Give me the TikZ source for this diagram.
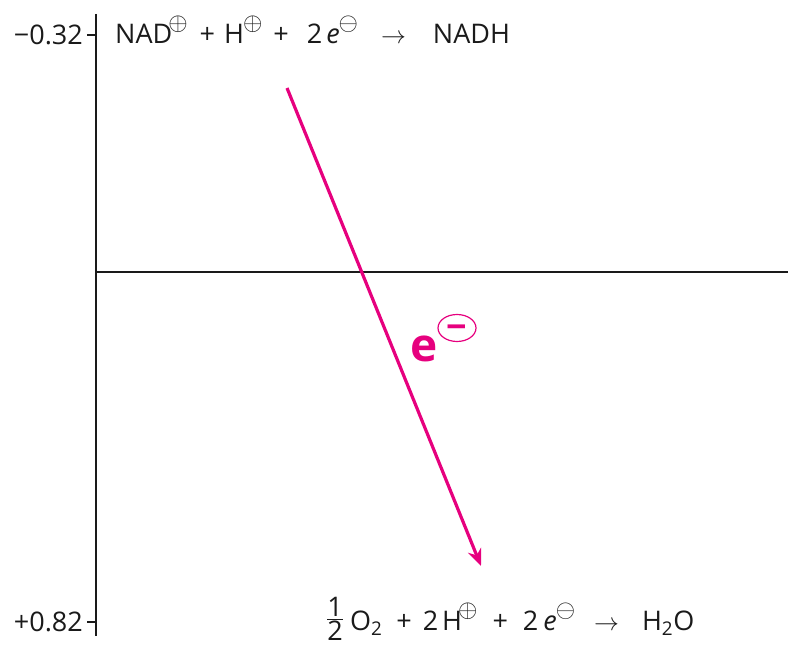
\documentclass[tikz,border=0pt]{standalone}
\usepackage{amsmath}
\usepackage{fontspec}
\setmainfont{Open Sans}
\usepackage{tikz}
\usetikzlibrary{arrows.meta,shapes.geometric}
\usepackage{xcolor}
\definecolor{EnergyMagenta}{HTML}{E6007E}
\definecolor{EnergyInk}{HTML}{1A1A1A}
\newcommand{\chgplus}{\raisebox{13pt}{\fontsize{23}{23}\selectfont$\oplus$}}
\newcommand{\chgminus}{\raisebox{13pt}{\fontsize{23}{23}\selectfont$\ominus$}}
\newcommand{\gap}[1]{\hspace{#1pt}}

\begin{document}
\begin{tikzpicture}[x=1pt,y=-1pt,>=Stealth,
    eqtext/.style={inner sep=0pt,font=\fontsize{27}{30}\selectfont,text=EnergyInk},
    axisline/.style={line width=2.8pt,EnergyInk},
    levelline/.style={line width=2.2pt,EnergyInk}]
  \useasboundingbox (0,0) rectangle (788,647);
  % potential axis
  \coordinate (axtop) at (96,14);
  \coordinate (axbot) at (96,636);
  \draw[axisline] (axtop) -- (axbot);
  \coordinate (tickNAD) at (96,35);
  \coordinate (tickOx) at (96,622);
  \node[eqtext,anchor=east] (lblNAD) at (83,35) {−0.32};
  \node[eqtext,anchor=east] (lblOx) at (83,622) {+0.82};
  \draw[levelline] (lblNAD.east) ++(4,0) -- (tickNAD);
  \draw[levelline] (lblOx.east) ++(4,0) -- (tickOx);
  % zero level
  \coordinate (zeroL) at (96,272);
  \coordinate (zeroR) at (788,272);
  \draw[levelline] (zeroL) -- (zeroR);
  % half reactions
  \node[eqtext,anchor=base west] (eqNAD) at (115,44)
    {NAD\gap{-4}\chgplus\gap{12}+\gap{9}H\gap{-1}\chgplus\gap{11}+\gap{18}2\gap{4}\textit{e}\gap{-1}\chgminus\gap{23}$\rightarrow$\gap{27}NADH};
  \node[eqtext,anchor=base west] (eqOx) at (326,630)
    {\raisebox{4pt}{$\frac{\mbox{1}}{\mbox{2}}$}\gap{6}O\textsubscript{2}\gap{14}+\gap{11}2\gap{4}H\gap{-4}\chgplus\gap{15}+\gap{15}2\gap{5}\textit{e}\gap{-1}\chgminus\gap{19}$\rightarrow$\gap{23}H\textsubscript{2}O};
  % electron flow
  \coordinate (estart) at (287,88);
  \coordinate (eend) at (481,566);
  \draw[line width=3.2pt,EnergyMagenta,-{Stealth[length=17pt,width=14pt]}] (estart) -- (eend);
  \node[inner sep=0pt,font=\fontsize{46}{50}\selectfont\bfseries,text=EnergyMagenta] (elabel) at (424,349) {e};
  \node[draw=EnergyMagenta,line width=1.2pt,ellipse,minimum width=38pt,minimum height=27pt,inner sep=0pt] (echarge) at (457,328) {};
  \node[inner sep=0pt,font=\fontsize{36}{36}\selectfont\bfseries,text=EnergyMagenta,text height=24pt,text depth=0pt] at (echarge.center) {−};
\end{tikzpicture}
\end{document}
